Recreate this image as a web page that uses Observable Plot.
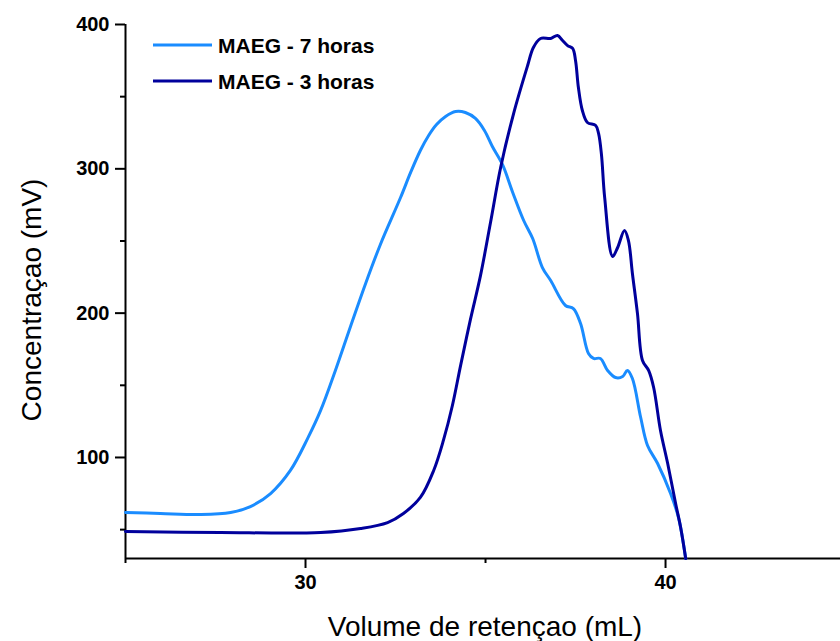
<!DOCTYPE html>
<html>
<head>
<meta charset="utf-8">
<script src="https://cdn.jsdelivr.net/npm/d3@7"></script>
<script src="https://cdn.jsdelivr.net/npm/@observablehq/plot@0.6"></script>
<style>
  html, body { margin: 0; padding: 0; background: #fff; overflow: hidden; }
  #chart svg { display: block; }
</style>
</head>
<body>
<div id="chart"></div>
<script>
// ---- Data ----
const seriesNames = ["MAEG - 7 horas", "MAEG - 3 horas"];
const seriesColors = ["#1a8cff", "#00009c"];

const volume7h = [25.00, 25.97, 27.08, 27.92, 28.47, 29.03, 29.58, 30.06, 30.42, 30.83, 31.25, 31.67, 32.08, 32.64, 32.92, 33.19, 33.42, 33.64, 33.89, 34.17, 34.44, 34.72, 34.97, 35.19, 35.47, 35.75, 36.06, 36.31, 36.58, 36.81, 37.22, 37.44, 37.64, 37.86, 38.00, 38.19, 38.39, 38.61, 38.81, 38.94, 39.08, 39.31, 39.50, 39.78, 40.14, 40.36, 40.56];
const conc7h   = [61.9, 61.2, 60.5, 61.9, 66.0, 75.0, 91.0, 113.2, 132.6, 160.3, 190.8, 220.6, 247.6, 280.1, 297.5, 312.7, 323.1, 330.7, 336.3, 339.7, 339.0, 334.9, 326.6, 315.5, 303.0, 284.0, 264.2, 251.7, 231.6, 222.6, 205.3, 203.2, 192.8, 172.0, 168.6, 168.6, 160.3, 155.4, 156.1, 160.3, 154.7, 127.7, 108.3, 95.8, 75.0, 58.4, 30.0];

const volume3h = [25.00, 27.64, 30.42, 31.53, 32.28, 32.72, 33.19, 33.56, 33.83, 34.08, 34.31, 34.58, 34.86, 35.14, 35.42, 35.78, 36.17, 36.33, 36.53, 36.81, 37.00, 37.14, 37.28, 37.42, 37.50, 37.58, 37.69, 37.83, 38.06, 38.14, 38.22, 38.31, 38.53, 38.67, 38.86, 38.97, 39.08, 39.22, 39.36, 39.53, 39.67, 39.86, 40.06, 40.28, 40.42, 40.56];
const conc3h   = [48.7, 48.0, 48.0, 50.8, 54.9, 61.2, 72.3, 91.0, 111.8, 136.0, 164.0, 195.5, 226.0, 263.0, 300.9, 338.3, 371.6, 384.1, 390.3, 390.3, 392.4, 388.9, 385.4, 383.4, 375.1, 356.3, 340.4, 332.1, 330.0, 324.5, 310.0, 280.0, 239.3, 245.5, 257.3, 250.3, 227.5, 199.8, 167.2, 160.3, 148.5, 118.7, 95.8, 68.1, 51.5, 30.0];

const xMajorTicks = [30, 40];
const xMinorTicks = [25, 35, 45];
const yMajorTicks = [100, 200, 300, 400];
const yMinorTicks = [50, 150, 250, 350];

const xLabel = "Volume de retençao (mL)";
const yLabel = "Concentraçao (mV)";

// ---- Build tables ----
const rows7 = volume7h.map((v, i) => ({x: v, y: conc7h[i], s: seriesNames[0]}));
const rows3 = volume3h.map((v, i) => ({x: v, y: conc3h[i], s: seriesNames[1]}));

const W = 840, H = 641;
const font = "'Liberation Sans', Arial, Helvetica, sans-serif";

const plot = Plot.plot({
  width: W,
  height: H,
  marginLeft: 125,
  marginTop: 24,
  marginBottom: 83,
  marginRight: 0,
  style: {fontFamily: font, background: "#fff", color: "#000"},
  x: {domain: [25, 44.86]},
  y: {domain: [30, 400]},
  marks: [
    Plot.axisX({ticks: xMinorTicks, tickSize: 5, strokeWidth: 2, text: null, label: null}),
    Plot.axisX({ticks: xMajorTicks, tickSize: 10, strokeWidth: 2, tickPadding: 6, fontSize: 20, fontWeight: "bold", tickFormat: d => String(d), label: null}),
    Plot.axisY({ticks: yMinorTicks, tickSize: 5, strokeWidth: 2, text: null, label: null}),
    Plot.axisY({ticks: yMajorTicks, tickSize: 10, strokeWidth: 2, tickPadding: 6, fontSize: 20, fontWeight: "bold", tickFormat: d => String(d), label: null}),
    Plot.ruleY([30], {stroke: "#000", strokeWidth: 2}),
    Plot.ruleX([25], {stroke: "#000", strokeWidth: 2}),
    Plot.line(rows7, {x: "x", y: "y", stroke: seriesColors[0], strokeWidth: 3, curve: "catmull-rom"}),
    Plot.line(rows3, {x: "x", y: "y", stroke: seriesColors[1], strokeWidth: 3, curve: "catmull-rom"})
  ]
});

document.getElementById("chart").appendChild(plot);

// ---- Axis titles and legend (real text) ----
const svg = d3.select(plot);
svg.append("text")
  .attr("x", 485).attr("y", 636)
  .attr("text-anchor", "middle")
  .attr("font-family", font).attr("font-size", 28).attr("fill", "#000")
  .text(xLabel);
svg.append("text")
  .attr("transform", "translate(41,300) rotate(-90)")
  .attr("text-anchor", "middle")
  .attr("font-family", font).attr("font-size", 28).attr("fill", "#000")
  .text(yLabel);

const legend = svg.append("g");
seriesNames.forEach((name, i) => {
  const cy = 45 + i * 36;
  legend.append("line")
    .attr("x1", 153).attr("x2", 212).attr("y1", cy).attr("y2", cy)
    .attr("stroke", seriesColors[i]).attr("stroke-width", 3);
  legend.append("text")
    .attr("x", 218).attr("y", cy + 8)
    .attr("text-anchor", "start")
    .attr("font-family", font).attr("font-size", 21).attr("font-weight", "bold").attr("fill", "#000")
    .text(name);
});
</script>
</body>
</html>
